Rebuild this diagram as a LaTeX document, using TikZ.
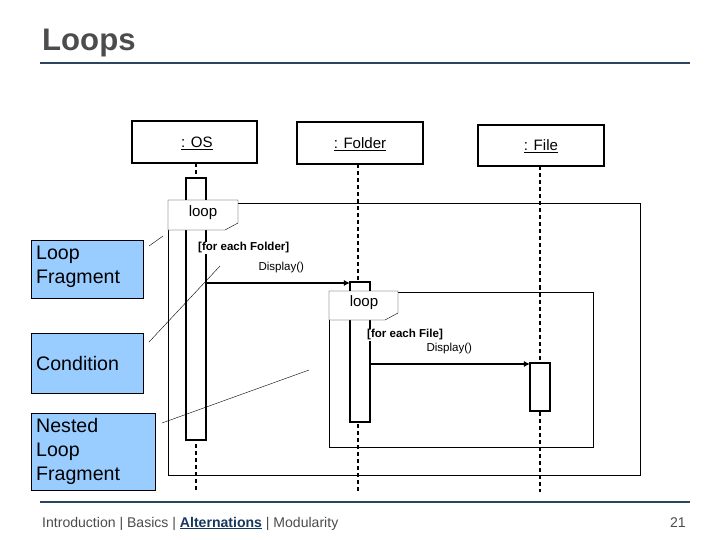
\documentclass[tikz,border=0pt]{standalone}
\usepackage{fontspec}
\setmainfont{Liberation Sans}
\usetikzlibrary{positioning,arrows.meta}
\definecolor{noteblue}{HTML}{99CCFF}
\definecolor{rulenavy}{HTML}{2B4560}
\definecolor{linkblue}{HTML}{17375E}

\begin{document}
\begin{tikzpicture}[x=0.035cm, y=-0.035cm,
    obj/.style={draw, very thick, fill=white, inner sep=0pt},
    lbl/.style={font=\fontsize{15}{17}\selectfont},
    life/.style={very thick, dashed, dash pattern=on 4pt off 3pt},
    act/.style={draw, very thick, fill=white},
    frame/.style={draw, thin},
    note/.style={draw, fill=noteblue, anchor=north west, align=left,
                 font=\fontsize{19.5}{24}\selectfont, inner sep=5pt},
    msg/.style={very thick, -{Latex[length=6pt,width=6pt]}},
    guard/.style={font=\bfseries\fontsize{11.5}{13}\selectfont},
    call/.style={font=\fontsize{11.5}{13}\selectfont},
]
\useasboundingbox (0,0) rectangle (720,540);
% title and rules
\node[anchor=base west, font=\bfseries\fontsize{31}{34}\selectfont, text=black!70,
      inner sep=0pt] (title) at (42,50) {Loops};
\draw[rulenavy, line width=1.5pt] (40,63) -- (690,63);
\draw[rulenavy, line width=1.5pt] (40,502) -- (690,502);
% lifelines
\draw[life] (196,163) -- (196,492);
\draw[life] (358,164) -- (358,492);
\draw[life] (540,166) -- (540,492);
% objects
\draw[obj] (132,121) rectangle (257,163);
\node[lbl] (os) at (197,143) {\underline{: OS}};
\draw[obj] (297,122) rectangle (423,164);
\node[lbl] (folder) at (360,144) {\underline{: Folder}};
\draw[obj] (478,125) rectangle (604,166);
\node[lbl] (file) at (541,146) {\underline{: File}};
% outer loop
\draw[act] (186,178) rectangle (206,440);
\draw[frame] (168,203) rectangle (640,475);
\draw[frame, fill=white] (168,200) -- (238,200) -- (238,223) -- (225,230) -- (168,230) -- cycle;
\node[lbl] (loopA) at (203,213) {loop};
\node[guard, anchor=west, fill=white, inner sep=1pt] (guardA) at (197,248) {[for each Folder]};
\node[call, anchor=west] (dispA) at (255,268) {Display()};
% inner loop
\draw[act] (350,282) rectangle (370,422);
\coordinate (osout) at (206,283);
\coordinate (folderin) at (350,283);
\draw[msg] (osout) -- (folderin);
\draw[frame] (329,292) rectangle (593,447);
\draw[frame, fill=white] (329,291) -- (398,291) -- (398,313) -- (385,320) -- (329,320) -- cycle;
\node[lbl] (loopB) at (364,303) {loop};
\node[guard, anchor=west, fill=white, inner sep=1pt] (guardB) at (366,335) {[for each File]};
\node[call, anchor=west] (dispB) at (423,349) {Display()};
\draw[act] (530,363) rectangle (550,411);
\coordinate (folderout) at (370,364);
\coordinate (filein) at (530,364);
\draw[msg] (folderout) -- (filein);
% notes
\draw[fill=noteblue] (31,240) rectangle (143,298);
\node[note, draw=none, fill=none] (nLoop) at (31,241) {Loop\\Fragment};
\draw[fill=noteblue] (31,333) rectangle (143,393);
\node[note, draw=none, fill=none, anchor=west] (nCond) at (31,363) {Condition};
\draw[fill=noteblue] (31,413) rectangle (155,490);
\node[note, draw=none, fill=none] (nNest) at (31,413) {Nested\\Loop\\Fragment};
\coordinate (pLoop) at (163,236);
\coordinate (pCond) at (220,266);
\coordinate (pNest) at (309,370);
\draw[thin] (149,246) -- (pLoop);
\draw[thin] (149,342) -- (pCond);
\draw[thin] (162,423) -- (pNest);
% footer
\node[anchor=base west, font=\fontsize{14}{16}\selectfont, text=black!70, inner sep=0pt]
    (foot) at (42,527)
    {Introduction | Basics | \textcolor{linkblue}{\textbf{\underline{Alternations}}} | Modularity};
\node[anchor=base east, font=\fontsize{14}{16}\selectfont, text=black!70, inner sep=0pt]
    (page) at (686,527) {21};
\end{tikzpicture}
\end{document}
